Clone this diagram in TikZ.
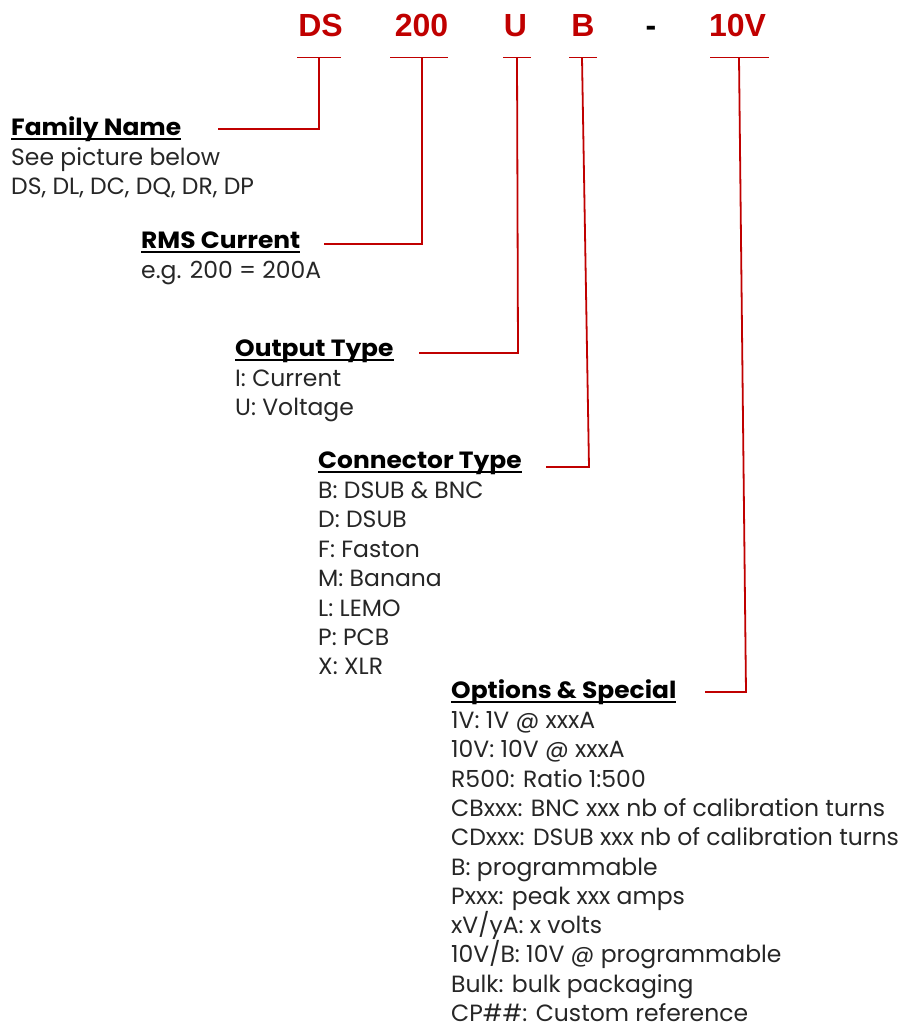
\documentclass[tikz,border=0pt]{standalone}
\usepackage{fontspec}
\setmainfont{Poppins}[BoldFeatures={FakeStretch=1.06}]
\newfontfamily\hdrfont{Liberation Sans}
\usetikzlibrary{calc}
\definecolor{dred}{RGB}{192,0,0}
\newcommand\ulhead[1]{\setbox0\hbox{\bfseries #1}\rlap{\rule[-4.5pt]{\wd0}{1.8pt}}\box0}
\tikzset{
  hdr/.style={font=\hdrfont\bfseries\fontsize{32}{36}\selectfont, text=dred, inner sep=0pt, anchor=base},
  head/.style={font=\fontsize{23.5}{28}\selectfont, inner sep=0pt, anchor=base west},
  bodytxt/.style={font=\fontsize{23.5}{28}\selectfont, inner sep=0pt, anchor=base west, text=black!85, text depth=0pt},
  wire/.style={draw=dred, line width=1.8pt, line join=miter},
}
\begin{document}
\begin{tikzpicture}[x=1pt,y=-1pt]
\useasboundingbox (0,0) rectangle (900,1026);
% header code
\node[hdr] (hDS)  at (320.5,36) {DS};
\node[hdr] (h200) at (421.5,36) {200};
\node[hdr] (hU)   at (515.5,36) {U};
\node[hdr] (hB)   at (583,36) {B};
\node[hdr, text=black] (hdash) at (651,36) {-};
\node[hdr] (h10V) at (737.5,36) {10V};
% tick coordinates
\coordinate (tDS)  at (319,57.5);
\coordinate (t200) at (422,57.5);
\coordinate (tU)   at (517,57.5);
\coordinate (tB)   at (582,57.5);
\coordinate (t10V) at (739,57.5);
\coordinate (cDS)  at (319,129);
\coordinate (c200) at (422,244);
\coordinate (cU)   at (518,353);
\coordinate (cB)   at (589,467);
\coordinate (c10V) at (746,692);
\coordinate (eDS)  at (218,129);
\coordinate (e200) at (324,244);
\coordinate (eU)   at (419,353);
\coordinate (eB)   at (546,467);
\coordinate (e10V) at (705,692);
% bars
\draw[wire] ($(tDS)+(-22,0)$) -- ($(tDS)+(22,0)$);
\draw[wire] ($(t200)+(-32,0)$) -- ($(t200)+(26,0)$);
\draw[wire] ($(tU)+(-14,0)$) -- ($(tU)+(14,0)$);
\draw[wire] ($(tB)+(-13,0)$) -- ($(tB)+(15,0)$);
\draw[wire] ($(t10V)+(-29,0)$) -- ($(t10V)+(30,0)$);
% connectors
\draw[wire] (tDS) -- (cDS) -- (eDS);
\draw[wire] (t200) -- (c200) -- (e200);
\draw[wire] (tU) -- (cU) -- (eU);
\draw[wire] (tB) -- (cB) -- (eB);
\draw[wire] (t10V) -- (c10V) -- (e10V);
% blocks
\node[head] (famh) at (11,135.5) {\ulhead{Family Name}};
\foreach \t [count=\i] in {See picture below, {DS, DL, DC, DQ, DR, DP}}
  \node[bodytxt] (fam-\i) at (11,{135.5+30+29.4*(\i-1)}) {\t};
\node[head] (rmsh) at (141,248.5) {\ulhead{RMS Current}};
\node[bodytxt] (rms-1) at (141,278.5) {e.g. 200 = 200A};
\node[head] (outh) at (235,356.5) {\ulhead{Output Type}};
\foreach \t [count=\i] in {I: Current, U: Voltage}
  \node[bodytxt] (out-\i) at (235,{356.5+30+29.4*(\i-1)}) {\t};
\node[head] (conh) at (318,468.5) {\ulhead{Connector Type}};
\foreach \t [count=\i] in {B: DSUB \& BNC, D: DSUB, F: Faston, M: Banana, L: LEMO, P: PCB, X: XLR}
  \node[bodytxt] (con-\i) at (318,{468.5+30+29.4*(\i-1)}) {\t};
\node[head] (opth) at (451,698.5) {\ulhead{Options \& Special}};
\foreach \t [count=\i] in {1V: 1V @ xxxA, 10V: 10V @ xxxA, R500: Ratio 1:500, CBxxx: BNC xxx nb of calibration turns, CDxxx: DSUB xxx nb of calibration turns, B: programmable, Pxxx: peak xxx amps, xV/yA: x volts, 10V/B: 10V @ programmable, Bulk: bulk packaging, CP\#\#: Custom reference}
  \node[bodytxt] (opt-\i) at (451,{698.5+30+29.3*(\i-1)}) {\t};
\end{tikzpicture}
\end{document}
